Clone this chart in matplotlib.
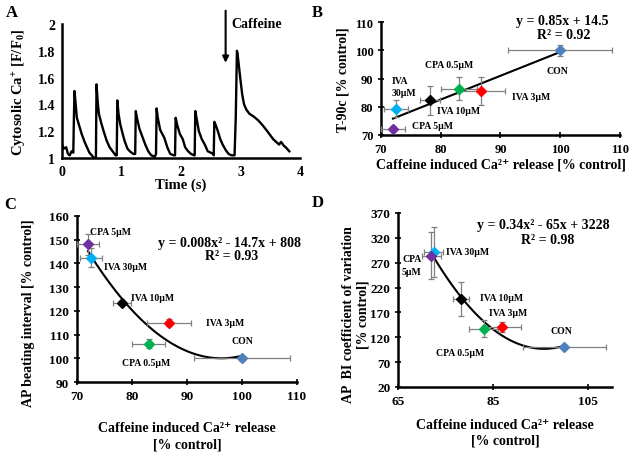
import numpy as np
import matplotlib
matplotlib.use("Agg")
import matplotlib.pyplot as plt

plt.rcParams['font.family'] = ['Liberation Serif', 'DejaVu Serif']
plt.rcParams['font.weight'] = 'bold'
plt.rcParams['mathtext.fontset'] = 'custom'
plt.rcParams['mathtext.rm'] = 'Liberation Serif:bold'
plt.rcParams['mathtext.it'] = 'Liberation Serif:bold'
plt.rcParams['mathtext.bf'] = 'Liberation Serif:bold'

# panel A: calcium trace
t_trace = [0.0, 0.03, 0.07, 0.1, 0.13, 0.16, 0.19, 0.2, 0.21, 0.23, 0.25, 0.29, 0.33, 0.38, 0.42, 0.46, 0.5, 0.54, 0.57,
           0.58, 0.6, 0.62, 0.66, 0.7, 0.75, 0.8, 0.85, 0.9, 0.92, 0.93, 0.95, 0.98, 1.02, 1.05, 1.1, 1.14, 1.2, 1.23,
           1.24, 1.26, 1.3, 1.35, 1.4, 1.45, 1.5, 1.56, 1.58, 1.59, 1.61, 1.65, 1.72, 1.77, 1.82, 1.88, 1.9, 1.91,
           1.94, 1.98, 2.03, 2.07, 2.12, 2.17, 2.22, 2.23, 2.24, 2.26, 2.3, 2.35, 2.4, 2.45, 2.5, 2.54, 2.55, 2.56,
           2.58, 2.62, 2.66, 2.7, 2.75, 2.8, 2.85, 2.9, 2.92, 2.94, 2.95, 2.97, 3.0, 3.03, 3.06, 3.1, 3.15, 3.22,
           3.3, 3.38, 3.45, 3.5, 3.55, 3.6, 3.65, 3.68, 3.7, 3.73, 3.76, 3.8, 3.82]
f_trace = [1.1, 1.07, 1.08, 1.03, 1.02, 1.05, 1.04, 1.3, 1.5, 1.4, 1.3, 1.24, 1.18, 1.12, 1.08, 1.04, 1.02, 1.0, 1.0,
           1.55, 1.42, 1.33, 1.26, 1.2, 1.13, 1.08, 1.05, 1.02, 1.02, 1.43, 1.33, 1.25, 1.18, 1.13, 1.07, 1.05, 1.03, 1.03,
           1.35, 1.3, 1.22, 1.16, 1.1, 1.05, 1.02, 1.01, 1.03, 1.37, 1.3, 1.21, 1.15, 1.08, 1.03, 1.02, 1.02, 1.3,
           1.24, 1.18, 1.14, 1.08, 1.05, 1.03, 1.02, 1.02, 1.35, 1.3, 1.2, 1.14, 1.1, 1.05, 1.04, 1.03, 1.02, 1.27,
           1.25, 1.2, 1.14, 1.1, 1.06, 1.03, 1.02, 1.02, 1.3, 1.8, 1.78, 1.7, 1.58, 1.47, 1.4, 1.36, 1.33, 1.31,
           1.28, 1.24, 1.2, 1.17, 1.14, 1.12, 1.1, 1.12, 1.11, 1.09, 1.08, 1.06, 1.05]

# panels B-D: shared x (caffeine induced Ca release)
groups = ['CON', 'IVA 3µM', 'CPA 0.5µM', 'IVA 10µM', 'IVA 30µM', 'CPA 5µM']
colors = ['#4F81BD', '#FF0000', '#00B050', '#000000', '#00B0F0', '#7030A0']
caff = [100, 86.8, 83, 78.2, 72.5, 72]
caff_err = [8.7, 4, 3, 1.7, 2, 2]

t90 = [100, 85.5, 86.4, 82.3, 79.3, 72.3]
t90_err = [2, 5, 4, 5.2, 3, 1]

bi = [100, 115, 106.2, 123.5, 142.3, 148]
bi_err = [1, 1.5, 2, 1.2, 4, 4.6]

cv = [101, 140.5, 137.5, 197, 292, 284]
cv_err = [4, 10, 17, 35, 50, 47]

fig = plt.figure(figsize=(6.29, 4.56), dpi=100)
W, H = 629, 456
CA = 'Caffeine induced Ca²⁺ release'


def add_ax(x0, y0, x1, y1):
    return fig.add_axes([x0 / W, 1 - y1 / H, (x1 - x0) / W, (y1 - y0) / H])


def style(ax, fs=9.5):
    for s in ['top', 'right']:
        ax.spines[s].set_visible(False)
    for s in ['left', 'bottom']:
        ax.spines[s].set_linewidth(1.8)
    ax.tick_params(labelsize=fs, width=1.2, length=4, direction='inout')
    for lab in ax.get_xticklabels() + ax.get_yticklabels():
        lab.set_fontweight('bold')


def scatter_panel(ax, y, yerr):
    for i in range(len(caff)):
        ax.errorbar(caff[i], y[i], xerr=caff_err[i], yerr=yerr[i], fmt='D', color=colors[i],
                    ms=5.5, ecolor='#808080', elinewidth=0.9, capsize=2, capthick=0.9, zorder=3)


# ---- A
axA = add_ax(62, 25, 300, 159)
axA.plot(t_trace, f_trace, color='black', lw=1.7)
axA.set_xlim(0, 4)
axA.set_ylim(1, 2)
axA.set_xticks([0, 1, 2, 3, 4])
axA.set_yticks([1, 1.2, 1.4, 1.6, 1.8, 2])
axA.set_yticklabels(['1', '1.2', '1.4', '1.6', '1.8', '2'])
style(axA, fs=10)
axA.tick_params(length=0, pad=5)
axA.set_xlabel('Time (s)', fontsize=10.5, fontweight='bold', labelpad=0)
axA.set_ylabel('Cytosolic Ca$^{+}$ [F/F$_{0}$]', fontsize=10.5, fontweight='bold', labelpad=6)
axA.annotate('', xy=(2.75, 1.69), xytext=(2.75, 2.12), annotation_clip=False,
             arrowprops=dict(arrowstyle='-|>', color='black', lw=1.5, mutation_scale=9))
axA.text(2.85, 2.0, 'Caffeine', fontsize=10, fontweight='bold', va='center')

# ---- B
axB = add_ax(381, 23, 620, 136)
scatter_panel(axB, t90, t90_err)
xb = np.linspace(min(caff), max(caff), 50)
pb = np.polyfit(caff, t90, 1)
axB.plot(xb, np.polyval(pb, xb), color='black', lw=1.5, zorder=2)
axB.set_xlim(70, 110)
axB.set_ylim(70, 110)
axB.set_xticks(range(70, 111, 10))
axB.set_yticks(range(70, 111, 10))
style(axB, fs=9)
axB.set_xlabel(CA + ' [% control]', fontsize=10, fontweight='bold', labelpad=2)
axB.set_ylabel('T-90c [% control]', fontsize=10, fontweight='bold')
fs_ann = 7
axB.text(99.5, 92.7, 'CON', fontsize=fs_ann, ha='center', va='center')
axB.text(95.1, 83.5, 'IVA 3µM', fontsize=fs_ann, ha='center', va='center')
axB.text(81.4, 95.1, 'CPA 0.5µM', fontsize=fs_ann, ha='center', va='center')
axB.text(71.8, 87.2, 'IVA\n30µM', fontsize=fs_ann, ha='left', va='center', linespacing=1.4)
axB.text(82.9, 78.5, 'IVA 10µM', fontsize=fs_ann, ha='center', va='center')
axB.text(78.7, 73.2, 'CPA 5µM', fontsize=fs_ann, ha='center', va='center')
axB.text(100.3, 110.4, 'y = 0.85x + 14.5', fontsize=10, ha='center', va='center', clip_on=False)
axB.text(100.5, 105.4, 'R² = 0.92', fontsize=10, ha='center', va='center')

# ---- C
axC = add_ax(77, 217, 297, 383)
scatter_panel(axC, bi, bi_err)
pc = np.polyfit(caff, bi, 2)
axC.plot(xb, np.polyval(pc, xb), color='black', lw=1.5, zorder=2)
axC.set_xlim(70, 110)
axC.set_ylim(90, 160)
axC.set_xticks(range(70, 111, 10))
axC.set_yticks(range(90, 161, 10))
style(axC)
axC.set_xlabel(CA + '\n[% control]', fontsize=10, fontweight='bold',
               labelpad=14, linespacing=1.3)
axC.set_ylabel('AP beating interval [% control]', fontsize=10, fontweight='bold')
axC.yaxis.set_label_coords(-0.19, 0.42)
axC.text(76, 153.3, 'CPA 5µM', fontsize=fs_ann, ha='center', va='center')
axC.text(78.9, 138.5, 'IVA 30µM', fontsize=fs_ann, ha='center', va='center')
axC.text(83.8, 125.8, 'IVA 10µM', fontsize=fs_ann, ha='center', va='center')
axC.text(96.9, 115.3, 'IVA 3µM', fontsize=fs_ann, ha='center', va='center')
axC.text(100, 107.7, 'CON', fontsize=fs_ann, ha='center', va='center')
axC.text(82.5, 98.4, 'CPA 0.5µM', fontsize=fs_ann, ha='center', va='center')
axC.text(97.8, 149, 'y = 0.008x² - 14.7x + 808', fontsize=10, ha='center', va='center')
axC.text(98.2, 143.5, 'R² = 0.93', fontsize=10, ha='center', va='center')

# ---- D
axD = add_ax(398, 214, 612, 388)
scatter_panel(axD, cv, cv_err)
pd_ = np.polyfit(caff, cv, 2)
axD.plot(xb, np.polyval(pd_, xb), color='black', lw=1.5, zorder=2)
axD.set_xlim(65, 110)
axD.set_ylim(20, 370)
axD.set_xticks([65, 85, 105])
axD.set_yticks(range(20, 371, 50))
style(axD)
axD.set_xlabel(CA + '\n[% control]', fontsize=10, fontweight='bold',
               labelpad=8, linespacing=1.3)
axD.set_ylabel('AP  BI coefficient of variation\n[% control]', fontsize=10, fontweight='bold',
               linespacing=1.1)
axD.yaxis.set_label_coords(-0.135, 0.42)
axD.text(79.7, 291.6, 'IVA 30µM', fontsize=fs_ann, ha='center', va='center')
axD.text(67.9, 265, 'CPA\n5µM', fontsize=fs_ann, ha='center', va='center', linespacing=1.5)
axD.text(86.7, 201, 'IVA 10µM', fontsize=fs_ann, ha='center', va='center')
axD.text(88.2, 169, 'IVA 3µM', fontsize=fs_ann, ha='center', va='center')
axD.text(99.3, 132.7, 'CON', fontsize=fs_ann, ha='center', va='center')
axD.text(78, 90, 'CPA 0.5µM', fontsize=fs_ann, ha='center', va='center')
axD.text(95.5, 346, 'y = 0.34x² - 65x + 3228', fontsize=10, ha='center', va='center')
axD.text(96.4, 316, 'R² = 0.98', fontsize=10, ha='center', va='center')

# panel letters
for lab, x, y in [('A', 12, 13), ('B', 317, 13), ('C', 10, 205), ('D', 318, 203)]:
    fig.text(x / W, 1 - y / H, lab, fontsize=12, fontweight='bold', ha='center', va='center')

fig.savefig('out.png', dpi=100)
